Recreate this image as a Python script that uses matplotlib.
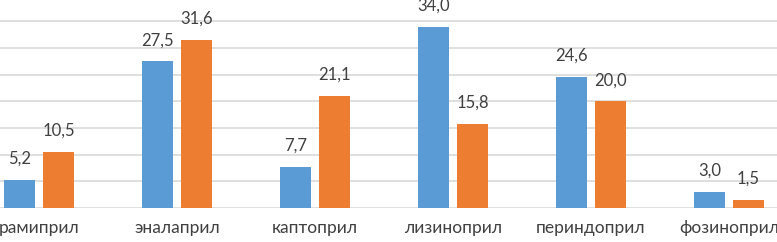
import matplotlib
matplotlib.use("Agg")
import matplotlib.pyplot as plt
import numpy as np

categories = ["рамиприл", "эналаприл", "каптоприл", "лизиноприл", "периндоприл", "фозиноприл"]
series_a = [5.2, 27.5, 7.7, 34.0, 24.6, 3.0]
series_b = [10.5, 31.6, 21.1, 15.8, 20.0, 1.5]
yticks = [0, 5, 10, 15, 20, 25, 30, 35]

plt.rcParams["font.family"] = ["Lato", "DejaVu Sans"]

fig = plt.figure(figsize=(7.77, 2.42), dpi=100)
ax = fig.add_axes([0, 34 / 242, 1, 208 / 242])

x = np.arange(len(categories))
w = 31 / 138
off = 19.5 / 138
bars_a = ax.bar(x - off, series_a, w, color="#5B9BD5", zorder=3)
bars_b = ax.bar(x + off, series_b, w, color="#ED7D31", zorder=3)

for bars in (bars_a, bars_b):
    for b in bars:
        v = b.get_height()
        ax.annotate(f"{v:.1f}".replace(".", ","), (b.get_x() + b.get_width() / 2, v),
                    xytext=(0, 9.5), textcoords="offset points",
                    ha="center", va="bottom", fontsize=12, color="#404040",
                    annotation_clip=False)

ax.set_xlim(-39 / 138, -39 / 138 + 777 / 138)
ax.set_ylim(0, 208 / 5.33)
ax.set_yticks(yticks)
ax.yaxis.grid(True, color="#D9D9D9", linewidth=1.2, zorder=0)
ax.tick_params(axis="y", left=False, labelleft=False)
ax.set_xticks(x)
ax.set_xticklabels(categories, fontsize=12.5, color="#404040")
ax.tick_params(axis="x", length=0, pad=9)
for s in ax.spines.values():
    s.set_visible(False)

fig.savefig("out.png", dpi=100)
